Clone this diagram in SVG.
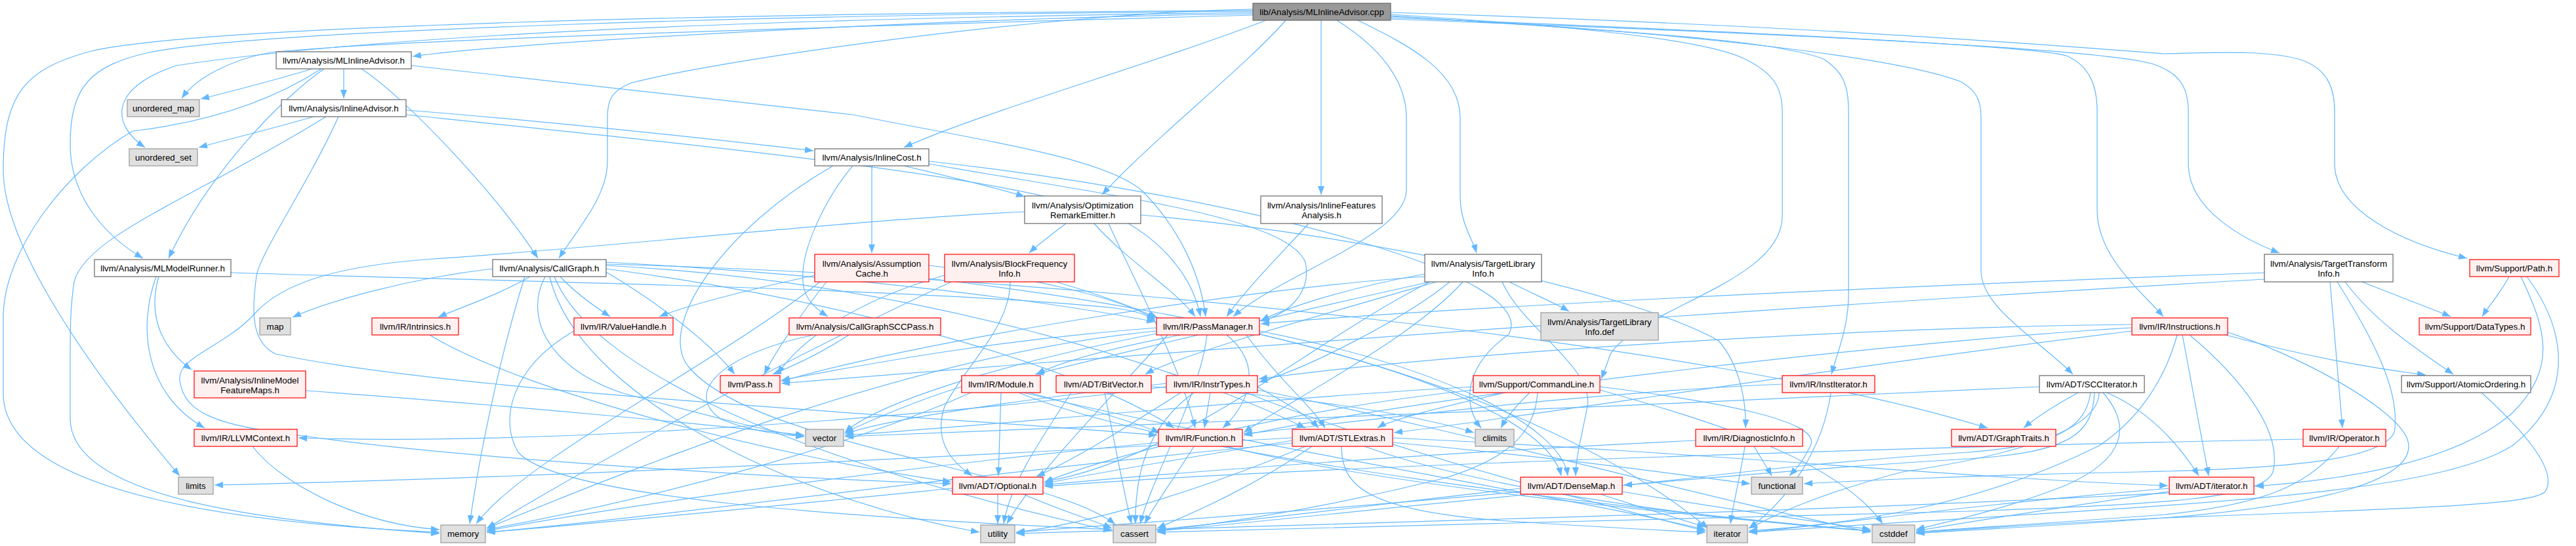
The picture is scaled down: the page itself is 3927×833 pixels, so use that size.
<svg xmlns="http://www.w3.org/2000/svg" width="3927" height="833" viewBox="0 0 3927 833">
<style>
.e path{fill:none;stroke:#63b8ff;stroke-width:1.2;marker-end:url(#a)}
.nd rect{stroke-width:1.2}
.w rect{fill:#ffffff;stroke:#666666}
.r rect{fill:#fff0f0;stroke:#ff0000}
.g rect{fill:#e0e0e0;stroke:#999999}
.k rect{fill:#999999;stroke:#666666}
text{font-family:"Liberation Sans",Arial,Helvetica,sans-serif;font-size:13.33px;text-anchor:middle;fill:#000000}
</style>
<defs>
<marker id="a" markerWidth="14" markerHeight="11" refX="13" refY="5.5" orient="auto" markerUnits="userSpaceOnUse"><path d="M0,0.5 L13,5.5 L0,10.5 z" fill="#63b8ff"/></marker>
</defs>
<rect x="0" y="0" width="3927" height="833" fill="#ffffff"/>
<g id="edges" class="e">
<path d="M1910,21 C1500,26 800,62 629,86"/>
<path d="M1910,23 C1300,40 600,60 412,80 C350,92 300,118 277,150"/>
<path d="M1910,19 C1200,28 600,50 269,100 C165,135 170,190 221,225"/>
<path d="M1910,16 C1100,20 300,40 139,78 C40,105 5,140 5,260 C5,380 150,580 274,726"/>
<path d="M1910,17 C1200,22 400,45 227,80 C140,100 107,130 107,220 C107,300 160,360 218,394"/>
<path d="M1910,14 C1600,20 1100,90 961,127 C930,140 926,155 926,180 L926,247 C926,300 880,350 852,394"/>
<path d="M1930,31 C1750,100 1500,170 1378,225"/>
<path d="M1960,31 C1900,100 1760,210 1680,297"/>
<path d="M2014,31 L2014,297"/>
<path d="M2038,31 C2100,70 2144,120 2144,180 L2144,290 C2144,360 1950,420 1880,483"/>
<path d="M2070,31 C2150,70 2226,110 2226,180 L2226,300 C2226,340 2245,365 2251,386"/>
<path d="M2120,22 C2400,40 2600,60 2660,90 C2700,110 2717,130 2717,170 L2717,330 C2717,430 2500,470 2455,540 C2450,555 2445,568 2441,578"/>
<path d="M2120,24 C2500,50 2700,60 2780,90 C2810,110 2818,130 2818,170 L2818,450 C2818,500 2800,540 2792,571"/>
<path d="M2120,25 C2600,50 2900,90 2990,125 C3015,140 3020,155 3020,180 L3020,413 C3020,470 3110,520 3160,571"/>
<path d="M2120,27 C2700,50 3100,70 3150,85 C3185,100 3197,130 3197,170 L3197,320 C3197,390 3260,440 3298,483"/>
<path d="M2120,29 C2800,55 3200,75 3280,97 C3320,110 3336,130 3336,170 L3336,250 C3336,320 3420,365 3475,386"/>
<path d="M2120,19 C2800,40 3200,75 3300,82 C3380,80 3460,76 3510,92 C3545,105 3559,130 3559,170 L3559,250 C3559,320 3660,370 3761,394"/>
<path d="M476,105 C420,122 350,140 306,151"/>
<path d="M524,105 L524,150"/>
<path d="M494,105 C430,150 320,260 257,394"/>
<path d="M551,105 C620,150 760,300 820,394"/>
<path d="M627,100 L1300,175 C1500,215 1680,240 1740,290 C1800,350 1830,420 1838,483"/>
<path d="M490,105 C420,150 330,185 202,200 C100,260 8,380 5,480 L5,600 C5,760 400,800 670,812"/>
<path d="M478,178 C420,195 350,212 303,225"/>
<path d="M619,168 C900,190 1150,220 1240,230"/>
<path d="M619,175 C1100,225 1550,270 1700,330 C1780,370 1820,430 1830,483"/>
<path d="M497,178 C300,300 130,360 113,430 C107,470 107,500 107,560 L107,640 C110,760 400,795 670,814"/>
<path d="M516,178 C470,280 400,380 391,420 C385,470 380,520 420,540 C700,600 1500,640 1764,664"/>
<path d="M242,422 C225,480 245,530 292,564"/>
<path d="M238,422 C210,500 220,600 312,653"/>
<path d="M352,416 C800,430 1400,440 1700,470 C1740,476 1752,482 1761,490"/>
<path d="M466,596 C800,620 1100,650 1226,664"/>
<path d="M385,681 C430,740 550,800 670,808"/>
<path d="M751,410 C620,425 500,460 446,484"/>
<path d="M808,422 C760,450 700,470 668,484"/>
<path d="M854,422 C880,450 910,470 930,483"/>
<path d="M831,422 C800,480 830,560 950,600 C1100,640 1180,660 1226,666"/>
<path d="M924,415 C1000,460 1080,520 1120,571"/>
<path d="M924,400 C1300,420 1600,460 1761,491"/>
<path d="M924,405 C1400,430 1800,560 1990,653"/>
<path d="M924,403 C1600,420 2600,520 3030,653"/>
<path d="M924,410 C1300,460 1650,560 1790,653"/>
<path d="M845,422 C900,560 1200,700 1695,810"/>
<path d="M838,422 C880,600 1200,760 1493,812"/>
<path d="M800,422 C760,550 730,700 716,799"/>
<path d="M875,505 C780,560 760,640 790,690 C850,760 1300,790 1695,808"/>
<path d="M655,511 C800,600 1200,700 1450,735"/>
<path d="M1329,253 L1329,386"/>
<path d="M1378,253 C1450,270 1530,290 1562,300"/>
<path d="M1416,250 C1700,300 1960,330 1990,400 C2000,450 1960,480 1922,490"/>
<path d="M1300,253 C1260,300 1220,380 1224,430 C1226,460 1250,475 1262,483"/>
<path d="M1270,253 C1100,350 1000,500 1050,560 C1150,680 1600,720 1700,800"/>
<path d="M1416,246 C1900,300 2350,420 2300,510 C2230,560 2230,620 2258,653"/>
<path d="M1625,341 C1600,360 1580,375 1569,386"/>
<path d="M1668,341 C1720,400 1790,440 1822,483"/>
<path d="M1562,323 C1300,335 900,380 660,395 C520,405 430,430 387,480 C340,530 270,545 274,580 C280,630 330,650 463,665 C700,700 1200,730 1450,738"/>
<path d="M1739,328 C2100,360 2500,450 2620,520 C2655,560 2662,620 2661,653"/>
<path d="M1690,341 C1740,450 1800,560 1822,653"/>
<path d="M1995,341 C1960,380 1900,440 1870,483"/>
<path d="M2301,430 C2340,450 2370,462 2392,475"/>
<path d="M2172,418 C2050,440 1960,470 1922,489"/>
<path d="M2172,422 C1900,440 1400,520 1191,582"/>
<path d="M2180,430 C2000,470 1700,540 1578,571"/>
<path d="M2190,430 C2050,470 1800,540 1746,571"/>
<path d="M2210,430 C2150,480 2000,560 1919,583"/>
<path d="M2230,430 C2150,520 1950,620 1896,660"/>
<path d="M2290,430 C2320,500 2430,560 2420,620 C2410,670 2402,700 2402,726"/>
<path d="M2180,430 C2000,520 1800,700 1592,735"/>
<path d="M3552,430 L3571,653"/>
<path d="M3601,430 C3650,450 3700,468 3736,483"/>
<path d="M3575,430 C3620,490 3680,530 3740,571"/>
<path d="M3452,416 C2800,440 2200,470 1922,494"/>
<path d="M3452,426 C2500,480 1500,560 1191,585"/>
<path d="M3563,430 C3620,520 3660,600 3650,660 C3630,700 3500,715 3260,720 C3000,725 2800,735 2750,738"/>
<path d="M3825,422 C3810,450 3795,465 3784,483"/>
<path d="M3843,422 C3880,500 3900,560 3830,630 C3750,700 3600,730 3438,742"/>
<path d="M3852,422 C3910,500 3930,600 3830,680 C3700,760 3300,770 2666,812"/>
<path d="M3783,599 C3850,660 3900,720 3880,750 C3860,770 3700,775 3300,790 C3100,800 2960,810 2921,812"/>
<path d="M3327,511 L3367,726"/>
<path d="M3385,509 C3500,540 3600,560 3698,572"/>
<path d="M3250,500 C2900,520 2200,600 1896,664"/>
<path d="M3250,495 C2800,500 2200,540 1919,578"/>
<path d="M3250,505 C2800,560 2300,640 2125,660"/>
<path d="M3338,511 C3420,580 3480,660 3465,720 C3450,760 3300,770 3000,780 C2400,795 1900,805 1764,812"/>
<path d="M3396,507 C3500,540 3650,620 3670,670 C3690,730 3550,770 3300,790 C3100,805 2960,810 2921,814"/>
<path d="M3319,511 C3300,580 3260,640 3200,680 C3000,780 2800,800 2666,810"/>
<path d="M3168,599 C3130,620 3100,640 3085,653"/>
<path d="M3109,590 C2500,620 1700,650 1288,666"/>
<path d="M3187,599 C3180,650 3140,680 3000,690 C2700,710 2550,735 2475,740"/>
<path d="M3193,599 C3190,660 3160,690 3000,700 C2500,730 2000,790 1764,810"/>
<path d="M3206,599 C3250,650 3240,700 3150,740 C3050,780 2950,800 2921,808"/>
<path d="M3212,599 C3260,620 3310,660 3352,726"/>
<path d="M3200,599 C3200,650 3100,690 2900,720 C2750,760 2700,790 2666,806"/>
<path d="M2717,586 C2400,600 2100,640 1896,662"/>
<path d="M2791,599 C2780,680 2730,760 2666,806"/>
<path d="M2332,599 C2310,620 2295,640 2288,653"/>
<path d="M2295,599 C2200,620 2120,640 2100,653"/>
<path d="M2246,595 C2000,620 1700,690 1592,736"/>
<path d="M2344,599 C2340,660 2300,700 2200,730 C2000,780 1850,800 1764,810"/>
<path d="M2439,590 C2600,610 2780,640 2760,680 C2745,710 2735,718 2728,726"/>
<path d="M2439,595 C2600,640 2800,700 2870,799"/>
<path d="M2246,590 C1900,610 1500,650 1288,664"/>
<path d="M1800,511 C1700,530 1620,550 1580,571"/>
<path d="M1870,511 C1930,560 1900,620 1864,653"/>
<path d="M1763,500 C1500,520 1300,560 1191,580"/>
<path d="M1920,505 C2200,560 2380,650 2390,726"/>
<path d="M1900,511 C1950,580 2000,620 2020,653"/>
<path d="M1840,511 C1830,600 1760,720 1738,799"/>
<path d="M1920,510 C2300,600 2500,720 2604,806"/>
<path d="M1763,505 C1400,540 1000,700 742,806"/>
<path d="M1780,511 C1700,600 1580,720 1535,799"/>
<path d="M1763,509 C1500,560 1330,620 1288,660"/>
<path d="M1526,599 L1522,726"/>
<path d="M1569,599 C1650,620 1730,645 1768,660"/>
<path d="M1466,590 C1400,610 1330,640 1288,660"/>
<path d="M1480,599 C1300,680 1000,760 742,808"/>
<path d="M1553,599 C1800,700 2500,780 2852,810"/>
<path d="M1560,599 C1900,680 2400,760 2600,808"/>
<path d="M1684,599 C1700,680 1715,760 1725,799"/>
<path d="M1633,599 C1580,680 1540,740 1530,799"/>
<path d="M1755,590 C1950,600 2150,630 2247,660"/>
<path d="M1845,599 L1836,653"/>
<path d="M1800,599 C1720,650 1640,700 1580,727"/>
<path d="M1820,599 C1750,650 1730,720 1731,799"/>
<path d="M1778,590 C1400,640 800,680 455,668"/>
<path d="M1917,590 C1950,610 1990,630 2010,653"/>
<path d="M1917,595 C2200,650 2600,760 2852,812"/>
<path d="M1900,599 C2100,680 2400,760 2600,810"/>
<path d="M1778,585 C1550,610 1350,640 1288,662"/>
<path d="M1820,681 C1790,730 1760,770 1745,799"/>
<path d="M1870,681 C2100,740 2600,790 2852,810"/>
<path d="M1766,675 C1300,720 900,780 742,810"/>
<path d="M1970,672 C1800,700 1650,725 1592,738"/>
<path d="M1970,668 C1400,700 800,730 327,740"/>
<path d="M2123,668 C2600,690 3000,730 3305,741"/>
<path d="M2045,681 C2045,740 2080,780 2300,795 C2450,805 2550,810 2600,812"/>
<path d="M2080,681 C2300,760 2700,800 2852,810"/>
<path d="M2123,675 C2400,700 2600,730 2668,738"/>
<path d="M1970,676 C1500,720 1000,790 742,812"/>
<path d="M1990,681 C1800,760 1650,800 1549,812"/>
<path d="M2000,681 C1900,750 1800,790 1764,806"/>
<path d="M1521,754 L1521,799"/>
<path d="M1560,754 C1620,780 1670,795 1695,806"/>
<path d="M1452,745 C1200,770 900,800 742,812"/>
<path d="M2440,754 C2520,780 2570,795 2600,804"/>
<path d="M2318,745 C2100,770 1900,795 1764,808"/>
<path d="M2318,750 C2000,780 1700,800 1549,812"/>
<path d="M2473,750 C2650,780 2800,800 2852,808"/>
<path d="M2674,681 C2685,700 2695,715 2701,726"/>
<path d="M2660,681 C2652,730 2642,770 2638,799"/>
<path d="M2585,672 C2200,690 1800,720 1592,740"/>
<path d="M3511,670 C3000,680 2000,710 1592,742"/>
<path d="M3566,681 C3520,740 3450,770 3300,785 C3100,800 2960,808 2921,812"/>
<path d="M3307,745 C3000,770 2800,800 2666,812"/>
<path d="M3307,750 C3100,780 2980,800 2921,810"/>
<path d="M3307,752 C2800,780 2000,800 1549,814"/>
<path d="M1242,420 C1150,440 1050,465 1005,483"/>
<path d="M1416,405 C1550,420 1700,450 1761,487"/>
<path d="M1260,430 C1220,480 1180,540 1165,571"/>
<path d="M1416,425 C1900,480 2350,600 2380,726"/>
<path d="M1250,430 C1100,550 800,700 726,799"/>
<path d="M1540,430 C1540,500 1470,560 1440,620 C1420,680 1460,710 1482,726"/>
<path d="M1610,430 C1680,450 1730,470 1765,485"/>
<path d="M1440,420 C1300,460 1220,520 1185,571"/>
<path d="M1450,430 C1300,500 1000,650 742,806"/>
<path d="M1294,511 C1250,540 1210,558 1178,571"/>
<path d="M1241,511 C1100,540 1040,600 1100,640 C1150,660 1200,664 1226,666"/>
</g>
<g id="n-root" class="nd k"><rect x="1910" y="5" width="210" height="26"/><text x="2015" y="23">lib/Analysis/MLInlineAdvisor.cpp</text></g>
<g id="n-mlinlineadvisor" class="nd w"><rect x="421" y="79" width="206" height="26"/><text x="524" y="97">llvm/Analysis/MLInlineAdvisor.h</text></g>
<g id="n-unordered_map" class="nd g"><rect x="194" y="152" width="110" height="26"/><text x="249" y="170">unordered_map</text></g>
<g id="n-inlineadvisor" class="nd w"><rect x="429" y="152" width="190" height="26"/><text x="524" y="170">llvm/Analysis/InlineAdvisor.h</text></g>
<g id="n-unordered_set" class="nd g"><rect x="197" y="227" width="104" height="26"/><text x="249" y="245">unordered_set</text></g>
<g id="n-inlinecost" class="nd w"><rect x="1242" y="227" width="174" height="26"/><text x="1329" y="245">llvm/Analysis/InlineCost.h</text></g>
<g id="n-ore" class="nd w"><rect x="1562" y="299" width="177" height="42"/><text x="1650.5" y="318">llvm/Analysis/Optimization</text><text x="1650.5" y="333">RemarkEmitter.h</text></g>
<g id="n-ifa" class="nd w"><rect x="1922" y="299" width="185" height="42"/><text x="2014.5" y="318">llvm/Analysis/InlineFeatures</text><text x="2014.5" y="333">Analysis.h</text></g>
<g id="n-mlmodelrunner" class="nd w"><rect x="144" y="396" width="208" height="26"/><text x="248" y="414">llvm/Analysis/MLModelRunner.h</text></g>
<g id="n-callgraph" class="nd w"><rect x="751" y="396" width="173" height="26"/><text x="837.5" y="414">llvm/Analysis/CallGraph.h</text></g>
<g id="n-assumptioncache" class="nd r"><rect x="1242" y="388" width="174" height="42"/><text x="1329" y="407">llvm/Analysis/Assumption</text><text x="1329" y="422">Cache.h</text></g>
<g id="n-bfi" class="nd r"><rect x="1440" y="388" width="198" height="42"/><text x="1539" y="407">llvm/Analysis/BlockFrequency</text><text x="1539" y="422">Info.h</text></g>
<g id="n-tli" class="nd w"><rect x="2172" y="388" width="178" height="42"/><text x="2261" y="407">llvm/Analysis/TargetLibrary</text><text x="2261" y="422">Info.h</text></g>
<g id="n-tti" class="nd w"><rect x="3452" y="388" width="196" height="42"/><text x="3550" y="407">llvm/Analysis/TargetTransform</text><text x="3550" y="422">Info.h</text></g>
<g id="n-path" class="nd r"><rect x="3765" y="396" width="136" height="26"/><text x="3833" y="414">llvm/Support/Path.h</text></g>
<g id="n-map" class="nd g"><rect x="396" y="485" width="47" height="26"/><text x="419.5" y="503">map</text></g>
<g id="n-intrinsics" class="nd r"><rect x="567" y="485" width="132" height="26"/><text x="633" y="503">llvm/IR/Intrinsics.h</text></g>
<g id="n-valuehandle" class="nd r"><rect x="875" y="485" width="151" height="26"/><text x="950.5" y="503">llvm/IR/ValueHandle.h</text></g>
<g id="n-cgsccpass" class="nd r"><rect x="1203" y="485" width="231" height="26"/><text x="1318.5" y="503">llvm/Analysis/CallGraphSCCPass.h</text></g>
<g id="n-passmanager" class="nd r"><rect x="1763" y="485" width="157" height="26"/><text x="1841.5" y="503">llvm/IR/PassManager.h</text></g>
<g id="n-tlidef" class="nd g"><rect x="2349" y="477" width="179" height="42"/><text x="2438.5" y="496">llvm/Analysis/TargetLibrary</text><text x="2438.5" y="511">Info.def</text></g>
<g id="n-instructions" class="nd r"><rect x="3250" y="485" width="146" height="26"/><text x="3323" y="503">llvm/IR/Instructions.h</text></g>
<g id="n-datatypes" class="nd r"><rect x="3688" y="485" width="170" height="26"/><text x="3773" y="503">llvm/Support/DataTypes.h</text></g>
<g id="n-imfm" class="nd r"><rect x="296" y="566" width="170" height="41"/><text x="381" y="585">llvm/Analysis/InlineModel</text><text x="381" y="600">FeatureMaps.h</text></g>
<g id="n-pass" class="nd r"><rect x="1098" y="573" width="91" height="26"/><text x="1143.5" y="591">llvm/Pass.h</text></g>
<g id="n-module" class="nd r"><rect x="1466" y="573" width="120" height="26"/><text x="1526" y="591">llvm/IR/Module.h</text></g>
<g id="n-bitvector" class="nd r"><rect x="1610" y="573" width="145" height="26"/><text x="1682.5" y="591">llvm/ADT/BitVector.h</text></g>
<g id="n-instrtypes" class="nd r"><rect x="1778" y="573" width="139" height="26"/><text x="1847.5" y="591">llvm/IR/InstrTypes.h</text></g>
<g id="n-commandline" class="nd r"><rect x="2246" y="573" width="193" height="26"/><text x="2342.5" y="591">llvm/Support/CommandLine.h</text></g>
<g id="n-institerator" class="nd r"><rect x="2717" y="573" width="141" height="26"/><text x="2787.5" y="591">llvm/IR/InstIterator.h</text></g>
<g id="n-scciterator" class="nd w"><rect x="3109" y="573" width="160" height="26"/><text x="3189" y="591">llvm/ADT/SCCIterator.h</text></g>
<g id="n-atomicordering" class="nd w"><rect x="3661" y="573" width="197" height="26"/><text x="3759.5" y="591">llvm/Support/AtomicOrdering.h</text></g>
<g id="n-llvmcontext" class="nd r"><rect x="296" y="655" width="157" height="26"/><text x="374.5" y="673">llvm/IR/LLVMContext.h</text></g>
<g id="n-vector" class="nd g"><rect x="1228" y="655" width="58" height="26"/><text x="1257" y="673">vector</text></g>
<g id="n-function" class="nd r"><rect x="1766" y="655" width="128" height="26"/><text x="1830" y="673">llvm/IR/Function.h</text></g>
<g id="n-stlextras" class="nd r"><rect x="1970" y="655" width="153" height="26"/><text x="2046.5" y="673">llvm/ADT/STLExtras.h</text></g>
<g id="n-climits" class="nd g"><rect x="2249" y="655" width="59" height="26"/><text x="2278.5" y="673">climits</text></g>
<g id="n-diagnosticinfo" class="nd r"><rect x="2585" y="655" width="163" height="26"/><text x="2666.5" y="673">llvm/IR/DiagnosticInfo.h</text></g>
<g id="n-graphtraits" class="nd r"><rect x="2975" y="655" width="159" height="26"/><text x="3054.5" y="673">llvm/ADT/GraphTraits.h</text></g>
<g id="n-operator" class="nd r"><rect x="3511" y="655" width="126" height="26"/><text x="3574" y="673">llvm/IR/Operator.h</text></g>
<g id="n-limits" class="nd g"><rect x="272" y="728" width="53" height="26"/><text x="298.5" y="746">limits</text></g>
<g id="n-optional" class="nd r"><rect x="1452" y="728" width="138" height="26"/><text x="1521" y="746">llvm/ADT/Optional.h</text></g>
<g id="n-densemap" class="nd r"><rect x="2318" y="728" width="155" height="26"/><text x="2395.5" y="746">llvm/ADT/DenseMap.h</text></g>
<g id="n-functional" class="nd g"><rect x="2670" y="728" width="78" height="26"/><text x="2709" y="746">functional</text></g>
<g id="n-iteratorh" class="nd r"><rect x="3307" y="728" width="129" height="26"/><text x="3371.5" y="746">llvm/ADT/iterator.h</text></g>
<g id="n-memory" class="nd g"><rect x="672" y="801" width="68" height="27"/><text x="706" y="819">memory</text></g>
<g id="n-utility" class="nd g"><rect x="1495" y="801" width="52" height="27"/><text x="1521" y="819">utility</text></g>
<g id="n-cassert" class="nd g"><rect x="1697" y="801" width="65" height="27"/><text x="1729.5" y="819">cassert</text></g>
<g id="n-iterator" class="nd g"><rect x="2602" y="801" width="62" height="27"/><text x="2633" y="819">iterator</text></g>
<g id="n-cstddef" class="nd g"><rect x="2854" y="801" width="65" height="27"/><text x="2886.5" y="819">cstddef</text></g>
</svg>
